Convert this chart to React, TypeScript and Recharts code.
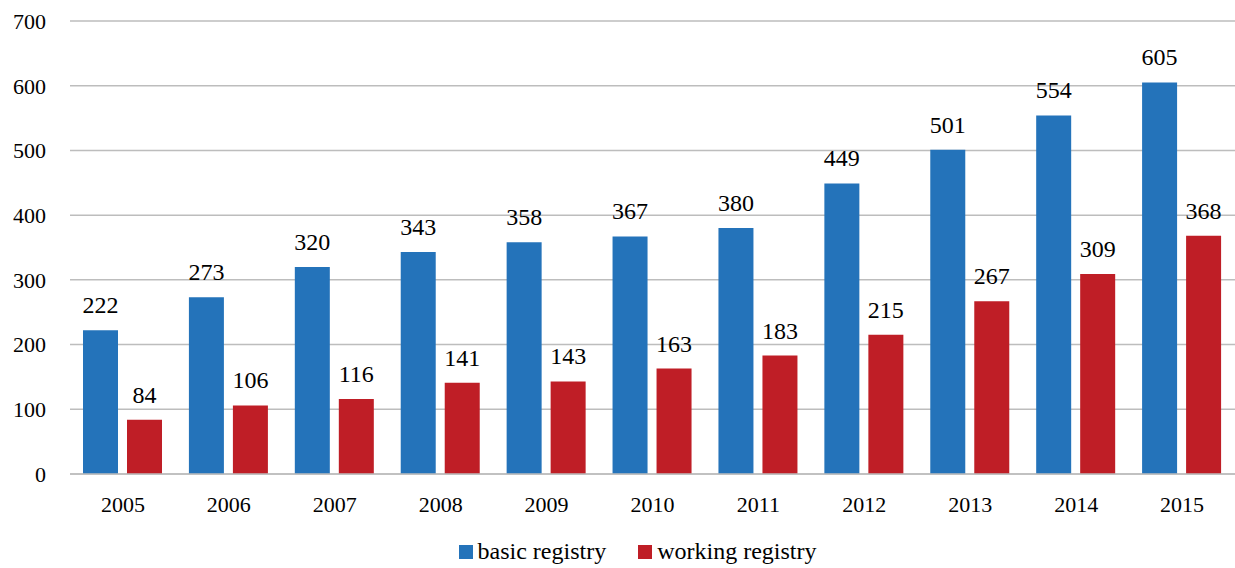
import { Bar, BarChart, CartesianGrid, LabelList, Legend, XAxis, YAxis } from "recharts";

const years = ["2005", "2006", "2007", "2008", "2009", "2010", "2011", "2012", "2013", "2014", "2015"];
const basicRegistry = [222, 273, 320, 343, 358, 367, 380, 449, 501, 554, 605];
const workingRegistry = [84, 106, 116, 141, 143, 163, 183, 215, 267, 309, 368];
const yTicks = [0, 100, 200, 300, 400, 500, 600, 700];

const data = years.map((year, i) => ({
  year,
  basic: basicRegistry[i],
  working: workingRegistry[i],
}));

const FONT = "Liberation Serif";
const BLUE = "#2473BA";
const RED = "#BF1E26";

function LegendContent() {
  const items = [
    { label: "basic registry", color: BLUE },
    { label: "working registry", color: RED },
  ];
  return (
    <div
      style={{
        display: "flex",
        justifyContent: "center",
        gap: 32,
        paddingLeft: 40,
        fontFamily: FONT,
        fontSize: 24,
        color: "#000",
      }}
    >
      {items.map((it) => (
        <span key={it.label} style={{ display: "inline-flex", alignItems: "center" }}>
          <span style={{ width: 14, height: 14, background: it.color, display: "inline-block", marginRight: 5 }} />
          {it.label}
        </span>
      ))}
    </div>
  );
}

const labelStyle = { fontFamily: FONT, fontSize: 24, fill: "#000" };

export default function App() {
  return (
    <div style={{ position: "absolute", left: 0, top: 0, background: "#fff" }}>
      <BarChart
        width={1235}
        height={568}
        data={data}
        margin={{ top: 21, right: 0, bottom: 3, left: 0 }}
        barSize={35}
        barGap={9}
      >
        <CartesianGrid vertical={false} stroke="#BDBDBD" strokeWidth={1.5} />
        <XAxis
          dataKey="year"
          tickLine={false}
          tickSize={0}
          tickMargin={22}
          height={64}
          axisLine={{ stroke: "#BDBDBD", strokeWidth: 1.5 }}
          tick={{ fill: "#000", fontSize: 22, fontFamily: FONT }}
        />
        <YAxis
          domain={[0, 700]}
          ticks={yTicks}
          width={70}
          tickLine={false}
          tickSize={0}
          tickMargin={24}
          axisLine={false}
          tick={{ fill: "#000", fontSize: 22, fontFamily: FONT }}
        />
        <Legend verticalAlign="bottom" content={<LegendContent />} />
        <Bar dataKey="basic" name="basic registry" fill={BLUE} isAnimationActive={false}>
          <LabelList dataKey="basic" position="top" offset={17} style={labelStyle} />
        </Bar>
        <Bar dataKey="working" name="working registry" fill={RED} isAnimationActive={false}>
          <LabelList dataKey="working" position="top" offset={17} style={labelStyle} />
        </Bar>
      </BarChart>
    </div>
  );
}
